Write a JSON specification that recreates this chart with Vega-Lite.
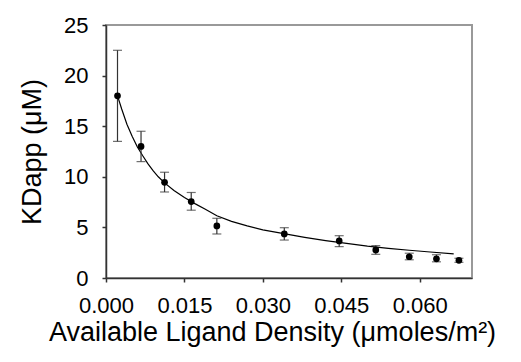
{
  "$schema": "https://vega.github.io/schema/vega-lite/v6.json",
  "width": 366,
  "height": 253,
  "autosize": {"type": "none"},
  "padding": {"left": 106, "top": 25, "right": 49, "bottom": 84},
  "background": "white",
  "config": {
    "view": {"stroke": "#999999", "strokeWidth": 2},
    "axis": {
      "grid": false,
      "labelFont": "Liberation Sans",
      "titleFont": "Liberation Sans",
      "labelFontSize": 22,
      "titleFontSize": 27,
      "titleFontWeight": "normal",
      "labelColor": "black",
      "titleColor": "black",
      "domainColor": "#333333",
      "domainWidth": 1.5,
      "tickColor": "#333333",
      "tickWidth": 1.5,
      "tickSize": 4,
      "labelFlush": false,
      "labelOverlap": false
    }
  },
  "datasets": {
    "points": [
      {"x": 0.0022, "y": 18.0, "lo": 13.5, "hi": 22.5},
      {"x": 0.0067, "y": 13.0, "lo": 11.5, "hi": 14.5},
      {"x": 0.0112, "y": 9.45, "lo": 8.5, "hi": 10.45},
      {"x": 0.0163, "y": 7.55, "lo": 6.7, "hi": 8.45},
      {"x": 0.0212, "y": 5.15, "lo": 4.35, "hi": 5.9},
      {"x": 0.0341, "y": 4.35, "lo": 3.75, "hi": 4.97},
      {"x": 0.0446, "y": 3.66, "lo": 3.1, "hi": 4.18},
      {"x": 0.0516, "y": 2.77, "lo": 2.34, "hi": 3.2},
      {"x": 0.058, "y": 2.1, "lo": 1.8, "hi": 2.45},
      {"x": 0.0632, "y": 1.9, "lo": 1.6, "hi": 2.3},
      {"x": 0.0675, "y": 1.75, "lo": 1.55, "hi": 1.95}
    ],
    "curve": [
      {"x": 0.0022, "y": 18.0},
      {"x": 0.003, "y": 16.7},
      {"x": 0.004, "y": 15.2},
      {"x": 0.005, "y": 14.0},
      {"x": 0.006, "y": 12.95},
      {"x": 0.007, "y": 12.1},
      {"x": 0.008, "y": 11.3},
      {"x": 0.009, "y": 10.6},
      {"x": 0.010, "y": 10.0},
      {"x": 0.0112, "y": 9.4},
      {"x": 0.013, "y": 8.65},
      {"x": 0.015, "y": 7.95},
      {"x": 0.017, "y": 7.35},
      {"x": 0.019, "y": 6.8},
      {"x": 0.0212, "y": 6.15},
      {"x": 0.024, "y": 5.6},
      {"x": 0.027, "y": 5.15},
      {"x": 0.030, "y": 4.75},
      {"x": 0.034, "y": 4.38},
      {"x": 0.038, "y": 4.02},
      {"x": 0.042, "y": 3.7},
      {"x": 0.046, "y": 3.42},
      {"x": 0.050, "y": 3.15},
      {"x": 0.054, "y": 2.93},
      {"x": 0.058, "y": 2.74},
      {"x": 0.062, "y": 2.57},
      {"x": 0.0665, "y": 2.38}
    ]
  },
  "layer": [
    {
      "data": {"name": "curve"},
      "mark": {"type": "line", "color": "black", "strokeWidth": 1.2},
      "encoding": {
        "x": {
          "field": "x", "type": "quantitative",
          "scale": {"domain": [0, 0.07], "nice": false, "zero": false},
          "axis": {
            "values": [0, 0.015, 0.03, 0.045, 0.06],
            "format": ".3f",
            "title": "Available Ligand Density (μmoles/m²)",
            "labelPadding": 13,
            "titlePadding": 3,
            "titleX": 166
          }
        },
        "y": {
          "field": "y", "type": "quantitative",
          "scale": {"domain": [0, 25], "nice": false},
          "axis": {
            "values": [0, 5, 10, 15, 20, 25],
            "title": "KDapp (μM)",
            "labelPadding": 14,
            "titlePadding": 17
          }
        }
      }
    },
    {
      "data": {"name": "points"},
      "mark": {"type": "errorbar", "ticks": {"size": 9, "color": "#333333"}, "color": "#333333", "thickness": 1.2},
      "encoding": {
        "x": {"field": "x", "type": "quantitative", "title": "Available Ligand Density (μmoles/m²)"},
        "y": {"field": "lo", "type": "quantitative", "title": "KDapp (μM)"},
        "y2": {"field": "hi"}
      }
    },
    {
      "data": {"name": "points"},
      "mark": {"type": "point", "filled": true, "color": "black", "size": 45, "opacity": 1},
      "encoding": {
        "x": {"field": "x", "type": "quantitative", "title": "Available Ligand Density (μmoles/m²)"},
        "y": {"field": "y", "type": "quantitative", "title": "KDapp (μM)"}
      }
    }
  ]
}
